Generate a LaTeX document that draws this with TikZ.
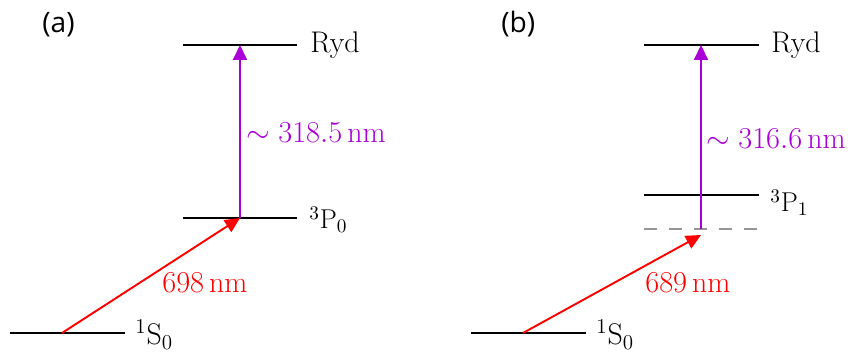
\documentclass[tikz,border=0pt]{standalone}
\usepackage{fontspec}
\newfontfamily\panelfont{Open Sans}
\usetikzlibrary{arrows.meta}
\definecolor{uvpurple}{RGB}{170,0,215}
\definecolor{virtgray}{RGB}{150,150,150}

\begin{document}
\begin{tikzpicture}[x=0.02cm, y=-0.02cm,
    level/.style={line width=1.25pt, black},
    virt/.style={line width=1.25pt, virtgray, dash pattern=on 0.26cm off 0.24cm},
    lbl/.style={anchor=base west, inner sep=0pt, font=\fontsize{17}{20}\selectfont},
    plbl/.style={anchor=base west, inner sep=0pt, font=\fontsize{15.5}{18}\selectfont},
    tag/.style={anchor=base west, inner sep=0pt, font=\panelfont\fontsize{16}{19}\selectfont},
    redarr/.style={-{Triangle[length=0.3cm, width=0.28cm]}, line width=1.1pt, red},
    uvarr/.style={-{Triangle[length=0.3cm, width=0.28cm]}, line width=1.1pt, uvpurple}
]
\useasboundingbox (0,0) rectangle (856,354);

% (a) clock transition
\node[tag] (tagA) at (42,33) {(a)};
\coordinate (aRydL) at (183,45);  \coordinate (aRydR) at (297,45);
\coordinate (aPL) at (183,218);   \coordinate (aPR) at (297,218);
\coordinate (aSL) at (10,333);    \coordinate (aSR) at (125,333);
\coordinate (aS) at (62,333);     \coordinate (aP) at (240,218);
\coordinate (aRyd) at (240,45);
\draw[level] (aRydL) -- (aRydR);
\draw[level] (aPL) -- (aPR);
\draw[level] (aSL) -- (aSR);
\node[lbl] (aRydT) at (310,53) {Ryd};
\node[plbl] (aPT) at (309,229) {$^3\mathrm{P}_0$};
\node[lbl] (aST) at (135,345) {$^1\mathrm{S}_0$};
\draw[redarr] (aS) -- (aP);
\draw[uvarr] (aP) -- (aRyd);
\node[lbl, text=red] (aRed) at (162,293) {$698\,\mathrm{nm}$};
\node[lbl, text=uvpurple] (aUV) at (246,143) {$\sim 318.5\,\mathrm{nm}$};

% (b) intercombination line, detuned
\node[tag] (tagB) at (501,33) {(b)};
\coordinate (bRydL) at (644,45);  \coordinate (bRydR) at (759,45);
\coordinate (bPL) at (644,195);   \coordinate (bPR) at (759,195);
\coordinate (bVL) at (644,229);   \coordinate (bVR) at (759,229);
\coordinate (bSL) at (471,333);   \coordinate (bSR) at (586,333);
\coordinate (bS) at (523,333);    \coordinate (bTip) at (701,235);
\coordinate (bV) at (701,229);    \coordinate (bRyd) at (701,45);
\draw[level] (bRydL) -- (bRydR);
\draw[level] (bPL) -- (bPR);
\draw[virt] (bVL) -- (bVR);
\draw[level] (bSL) -- (bSR);
\node[lbl] (bRydT) at (771,53) {Ryd};
\node[plbl] (bPT) at (770,212) {$^3\mathrm{P}_1$};
\node[lbl] (bST) at (596,345) {$^1\mathrm{S}_0$};
\draw[redarr] (bS) -- (bTip);
\draw[uvarr] (bV) -- (bRyd);
\node[lbl, text=red] (bRed) at (645,293) {$689\,\mathrm{nm}$};
\node[lbl, text=uvpurple] (bUV) at (706,149) {$\sim 316.6\,\mathrm{nm}$};
\end{tikzpicture}
\end{document}
